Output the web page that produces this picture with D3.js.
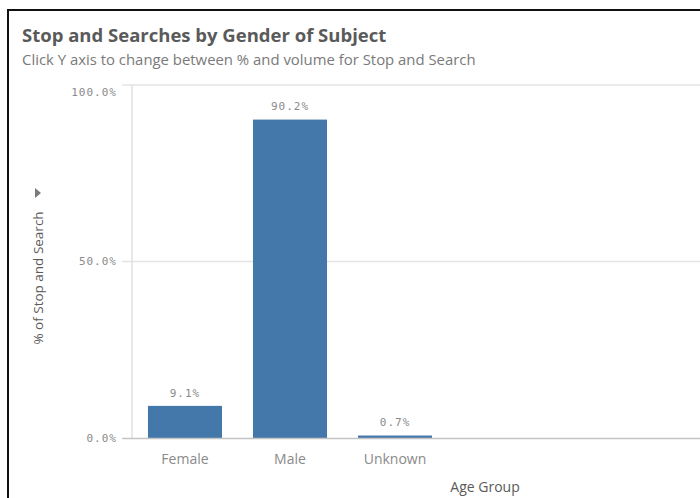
<!DOCTYPE html>
<html lang="en">
<meta charset="utf-8">
<style>
  body { margin: 0; background: #fff; }
  .tick-label { font-family: "DejaVu Sans Mono", monospace; font-size: 11px; letter-spacing: 1px; fill: #8a8a8a; }
  .cat-label { font-family: "Open Sans", sans-serif; font-size: 14px; fill: #8a8a8a; }
</style>
<script src="https://d3js.org/d3.v7.min.js"></script>
<body>
<div id="chart"></div>
<script>
// data
const genders = ["Female", "Male", "Unknown"]
const shares = [9.1, 90.2, 0.7]
const yTicks = [0, 50, 100]

const W = 700, H = 498
const svg = d3.select("#chart").append("svg")
  .attr("width", W)
  .attr("height", H)

// frame of the screenshot
svg.append("path")
  .attr("d", `M8,${H} V10 H${W}`)
  .attr("fill", "none")
  .attr("stroke", "#111")
  .attr("stroke-width", 2)

svg.append("text")
  .attr("x", 22).attr("y", 42)
  .style("font-family", "'Open Sans', sans-serif")
  .style("font-size", "18.5px")
  .style("font-weight", "bold")
  .style("fill", "#5a5a5a")
  .text("Stop and Searches by Gender of Subject")

svg.append("text")
  .attr("x", 22).attr("y", 65)
  .style("font-family", "'Open Sans', sans-serif")
  .style("font-size", "14.9px")
  .style("fill", "#7a7a7a")
  .text("Click Y axis to change between % and volume for Stop and Search")

// scales
const x = d3.scaleBand().domain(genders).range([132, 448]).paddingInner(0.295).paddingOuter(0.152)
const y = d3.scaleLinear().domain([0, 100]).range([438, 85])

// gridlines
svg.append("g").selectAll("line")
  .data(yTicks.filter(d => d > 0))
  .join("line")
  .attr("x1", 122).attr("x2", W)
  .attr("y1", d => y(d)).attr("y2", d => y(d))
  .attr("stroke", "#e4e4e4")
  .attr("stroke-width", 1.5)

// y axis line
svg.append("line")
  .attr("x1", 132).attr("x2", 132)
  .attr("y1", y(100)).attr("y2", y(0))
  .attr("stroke", "#e0e0e0")
  .attr("stroke-width", 1.5)

// y tick labels
svg.append("g").selectAll("text")
  .data(yTicks)
  .join("text")
  .attr("class", "tick-label")
  .attr("x", 117)
  .attr("y", d => d === 100 ? y(d) + 7 : y(d))
  .attr("dy", "0.35em")
  .attr("text-anchor", "end")
  .text(d => d3.format(".1f")(d) + "%")

// bars
svg.append("g").selectAll("rect")
  .data(shares)
  .join("rect")
  .attr("x", (d, i) => x(genders[i]))
  .attr("width", x.bandwidth())
  .attr("y", d => y(d))
  .attr("height", d => y(0) - y(d))
  .attr("fill", "#4477aa")

// value labels
svg.append("g").selectAll("text")
  .data(shares)
  .join("text")
  .attr("class", "tick-label")
  .attr("x", (d, i) => x(genders[i]) + x.bandwidth() / 2)
  .attr("y", d => y(d) - 13)
  .attr("dy", "0.35em")
  .attr("text-anchor", "middle")
  .text(d => d3.format(".1f")(d) + "%")

// baseline
svg.append("line")
  .attr("x1", 122).attr("x2", W)
  .attr("y1", y(0) + 0.5).attr("y2", y(0) + 0.5)
  .attr("stroke", "#c4c4c4")
  .attr("stroke-width", 1.5)

// category labels
svg.append("g").selectAll("text")
  .data(genders)
  .join("text")
  .attr("class", "cat-label")
  .attr("x", d => x(d) + x.bandwidth() / 2)
  .attr("y", 459)
  .attr("dy", "0.35em")
  .attr("text-anchor", "middle")
  .text(d => d)

svg.append("text")
  .attr("x", 485).attr("y", 487)
  .attr("dy", "0.35em")
  .attr("text-anchor", "middle")
  .style("font-family", "'Open Sans', sans-serif")
  .style("font-size", "14px")
  .style("fill", "#5a5a5a")
  .text("Age Group")

// y axis title + toggle arrow
svg.append("text")
  .attr("transform", "translate(38, 278) rotate(-90)")
  .attr("dy", "0.35em")
  .attr("text-anchor", "middle")
  .style("font-family", "'Open Sans', sans-serif")
  .style("font-size", "13.5px")
  .style("fill", "#5a5a5a")
  .text("% of Stop and Search")

svg.append("path")
  .attr("d", "M35,188 L41,193 L35,198 Z")
  .attr("fill", "#7a7a7a")
</script>
</body>
</html>
